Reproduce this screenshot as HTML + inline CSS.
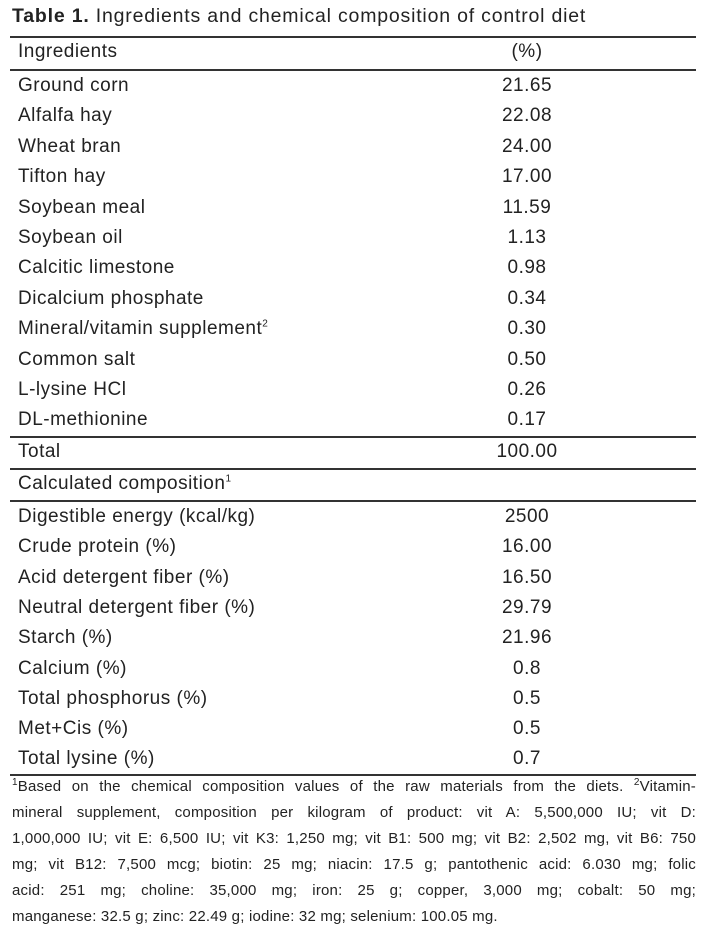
<!DOCTYPE html>
<html><head><style>
body{margin:0;width:709px;height:952px;background:#fff;font-family:"Liberation Sans",sans-serif;color:#222;position:relative;overflow:hidden}
.t{position:absolute;white-space:nowrap;font-size:19px;letter-spacing:0.5px;line-height:22px}
.l{left:18px}.v{left:527px;transform:translateX(-50%)}
.hr{position:absolute;left:10px;width:686px;height:1.5px;background:#333}
.title{position:absolute;left:12px;top:5px;font-size:19.5px;letter-spacing:0.8px;white-space:nowrap}
.fn{position:absolute;left:12px;width:684px;font-size:15px;letter-spacing:0.2px;line-height:20px;text-align:justify;text-align-last:justify;white-space:nowrap}
sup{font-size:10px;line-height:0}
</style></head><body>
<div class="title"><b>Table 1.</b> Ingredients and chemical composition of control diet</div>
<div class="hr" style="top:36px"></div>
<div class="hr" style="top:69px"></div>
<div class="hr" style="top:436px"></div>
<div class="hr" style="top:468px"></div>
<div class="hr" style="top:500px"></div>
<div class="hr" style="top:774px"></div>
<div class="t l" style="top:41px">Ingredients</div><div class="t v" style="top:41px">(%)</div>
<div class="t l" style="top:75px">Ground corn</div><div class="t v" style="top:75px">21.65</div>
<div class="t l" style="top:105px">Alfalfa hay</div><div class="t v" style="top:105px">22.08</div>
<div class="t l" style="top:136px">Wheat bran</div><div class="t v" style="top:136px">24.00</div>
<div class="t l" style="top:166px">Tifton hay</div><div class="t v" style="top:166px">17.00</div>
<div class="t l" style="top:197px">Soybean meal</div><div class="t v" style="top:197px">11.59</div>
<div class="t l" style="top:227px">Soybean oil</div><div class="t v" style="top:227px">1.13</div>
<div class="t l" style="top:257px">Calcitic limestone</div><div class="t v" style="top:257px">0.98</div>
<div class="t l" style="top:288px">Dicalcium phosphate</div><div class="t v" style="top:288px">0.34</div>
<div class="t l" style="top:318px">Mineral/vitamin supplement<sup>2</sup></div><div class="t v" style="top:318px">0.30</div>
<div class="t l" style="top:349px">Common salt</div><div class="t v" style="top:349px">0.50</div>
<div class="t l" style="top:379px">L-lysine HCl</div><div class="t v" style="top:379px">0.26</div>
<div class="t l" style="top:409px">DL-methionine</div><div class="t v" style="top:409px">0.17</div>
<div class="t l" style="top:441px">Total</div><div class="t v" style="top:441px">100.00</div>
<div class="t l" style="top:473px">Calculated composition<sup>1</sup></div>
<div class="t l" style="top:506px">Digestible energy (kcal/kg)</div><div class="t v" style="top:506px">2500</div>
<div class="t l" style="top:536px">Crude protein (%)</div><div class="t v" style="top:536px">16.00</div>
<div class="t l" style="top:567px">Acid detergent fiber (%)</div><div class="t v" style="top:567px">16.50</div>
<div class="t l" style="top:597px">Neutral detergent fiber (%)</div><div class="t v" style="top:597px">29.79</div>
<div class="t l" style="top:627px">Starch (%)</div><div class="t v" style="top:627px">21.96</div>
<div class="t l" style="top:658px">Calcium (%)</div><div class="t v" style="top:658px">0.8</div>
<div class="t l" style="top:688px">Total phosphorus (%)</div><div class="t v" style="top:688px">0.5</div>
<div class="t l" style="top:718px">Met+Cis (%)</div><div class="t v" style="top:718px">0.5</div>
<div class="t l" style="top:748px">Total lysine (%)</div><div class="t v" style="top:748px">0.7</div>
<div class="fn" style="top:777px"><sup>1</sup>Based on the chemical composition values of the raw materials from the diets. <sup>2</sup>Vitamin-</div>
<div class="fn" style="top:803px">mineral supplement, composition per kilogram of product: vit A: 5,500,000 IU; vit D:</div>
<div class="fn" style="top:829px">1,000,000 IU; vit E: 6,500 IU; vit K3: 1,250 mg; vit B1: 500 mg; vit B2: 2,502 mg, vit B6: 750</div>
<div class="fn" style="top:855px">mg; vit B12: 7,500 mcg; biotin: 25 mg; niacin: 17.5 g; pantothenic acid: 6.030 mg; folic</div>
<div class="fn" style="top:881px">acid: 251 mg; choline: 35,000 mg; iron: 25 g; copper, 3,000 mg; cobalt: 50 mg;</div>
<div class="fn" style="top:907px;text-align-last:left">manganese: 32.5 g; zinc: 22.49 g; iodine: 32 mg; selenium: 100.05 mg.</div>
</body></html>
